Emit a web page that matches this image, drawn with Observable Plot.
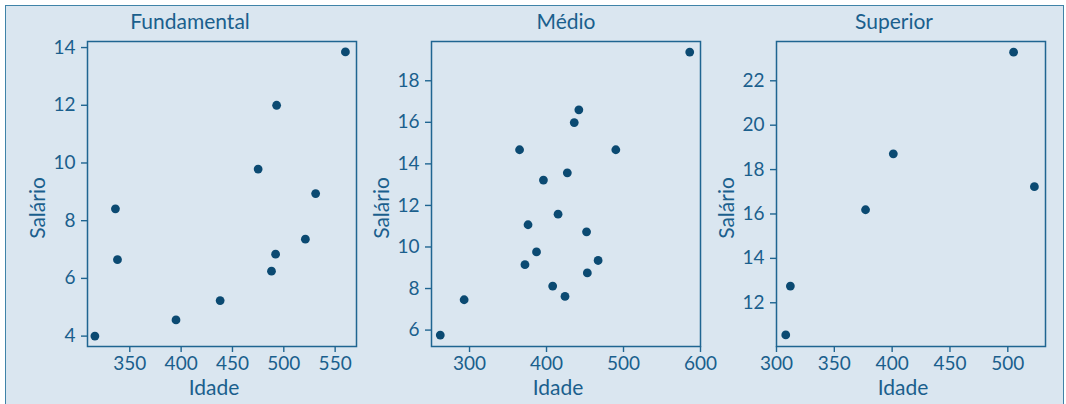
<!DOCTYPE html>
<html>
<head>
<meta charset="utf-8">
<script src="https://cdn.jsdelivr.net/npm/d3@7"></script>
<script src="https://cdn.jsdelivr.net/npm/@observablehq/plot@0.6"></script>
<style>
  html, body { margin: 0; padding: 0; background: #ffffff; }
  #wrap { position: relative; width: 1066px; height: 404px; overflow: hidden; font-family: Lato, "Open Sans", sans-serif; }
  #box { position: absolute; left: 5px; top: 5px; width: 1057px; height: 410px; border: 1.5px solid #3f83a8; background: #dae6f0; }
  .panel { position: absolute; top: 0; }
</style>
</head>
<body>
<div id="wrap"><div id="box"></div></div>
<script>
// ---- Data ----
const panels = ["Fundamental", "Médio", "Superior"];

const fundIdade = [316, 336, 338, 395, 438, 475, 493, 492, 488, 521, 531, 560];
const fundSalario = [4.0, 8.41, 6.65, 4.56, 5.23, 9.79, 12.0, 6.84, 6.25, 7.36, 8.94, 13.85];

const medioIdade = [262, 293, 365, 372, 376, 387, 396, 408, 415, 424, 427, 436, 442, 452, 453, 467, 490, 586];
const medioSalario = [5.76, 7.46, 14.68, 9.15, 11.07, 9.76, 13.22, 8.12, 11.58, 7.62, 13.57, 15.99, 16.6, 10.73, 8.75, 9.35, 14.68, 19.38];

const supIdade = [308, 312, 377, 401, 505, 523];
const supSalario = [10.55, 12.75, 16.19, 18.71, 23.29, 17.23];

const fundXTicks = [350, 400, 450, 500, 550];
const fundYTicks = [4, 6, 8, 10, 12, 14];
const medioXTicks = [300, 400, 500, 600];
const medioYTicks = [6, 8, 10, 12, 14, 16, 18];
const supXTicks = [300, 350, 400, 450, 500];
const supYTicks = [12, 14, 16, 18, 20, 22];

const xLabel = "Idade";
const yLabel = "Salário";

// ---- Styles ----
const textColor = "#1a5f8d";
const lineColor = "#1f6591";
const dotColor = "#0b4a72";
const font = "Lato, 'Open Sans', sans-serif";

const layout = [
  {left: 0,   width: 360, mL: 87, mR: 4, xDom: [308.8, 570.8], yDom: [3.64, 14.21], titleDx: -32},
  {left: 360, width: 345, mL: 71, mR: 5, xDom: [250.6, 600],   yDom: [5.21, 19.89], titleDx: 0},
  {left: 705, width: 345, mL: 71, mR: 5, xDom: [300, 532.6],   yDom: [10.03, 23.77], titleDx: -17}
];
const series = [
  {x: fundIdade, y: fundSalario, xt: fundXTicks, yt: fundYTicks},
  {x: medioIdade, y: medioSalario, xt: medioXTicks, yt: medioYTicks},
  {x: supIdade, y: supSalario, xt: supXTicks, yt: supYTicks}
];

const wrap = document.getElementById("wrap");
panels.forEach((name, i) => {
  const L = layout[i], S = series[i];
  const data = S.x.map((v, k) => ({Idade: v, Salario: S.y[k]}));
  const chart = Plot.plot({
    width: L.width,
    height: 404,
    marginLeft: L.mL,
    marginRight: L.mR,
    marginTop: 41,
    marginBottom: 58,
    style: {background: "transparent", fontFamily: font, color: textColor, overflow: "visible"},
    x: {domain: L.xDom},
    y: {domain: L.yDom},
    marks: [
      Plot.frame({stroke: lineColor, strokeWidth: 1.5}),
      Plot.axisX(S.xt, {tickSize: 6, tickPadding: 4, fontSize: 19, stroke: lineColor, strokeWidth: 1.4, fill: textColor, label: null}),
      Plot.axisY(S.yt, {tickSize: 6, tickPadding: 6, fontSize: 19, stroke: lineColor, strokeWidth: 1.4, fill: textColor, label: null}),
      Plot.dot(data, {x: "Idade", y: "Salario", r: 4.4, fill: dotColor, stroke: "none"}),
      Plot.text([name], {frameAnchor: "top", lineAnchor: "middle", dy: -19, dx: L.titleDx, fontSize: 21, fill: textColor}),
      Plot.text([xLabel], {frameAnchor: "bottom", lineAnchor: "middle", textAnchor: "middle", dy: 42, dx: -8, fontSize: 21, fill: textColor}),
      Plot.text([yLabel], {frameAnchor: "left", lineAnchor: "middle", textAnchor: "middle", dx: -49, dy: 14, rotate: -90, fontSize: 21, fill: textColor})
    ]
  });
  chart.classList.add("panel");
  chart.style.left = L.left + "px";
  wrap.appendChild(chart);
});
</script>
</body>
</html>
